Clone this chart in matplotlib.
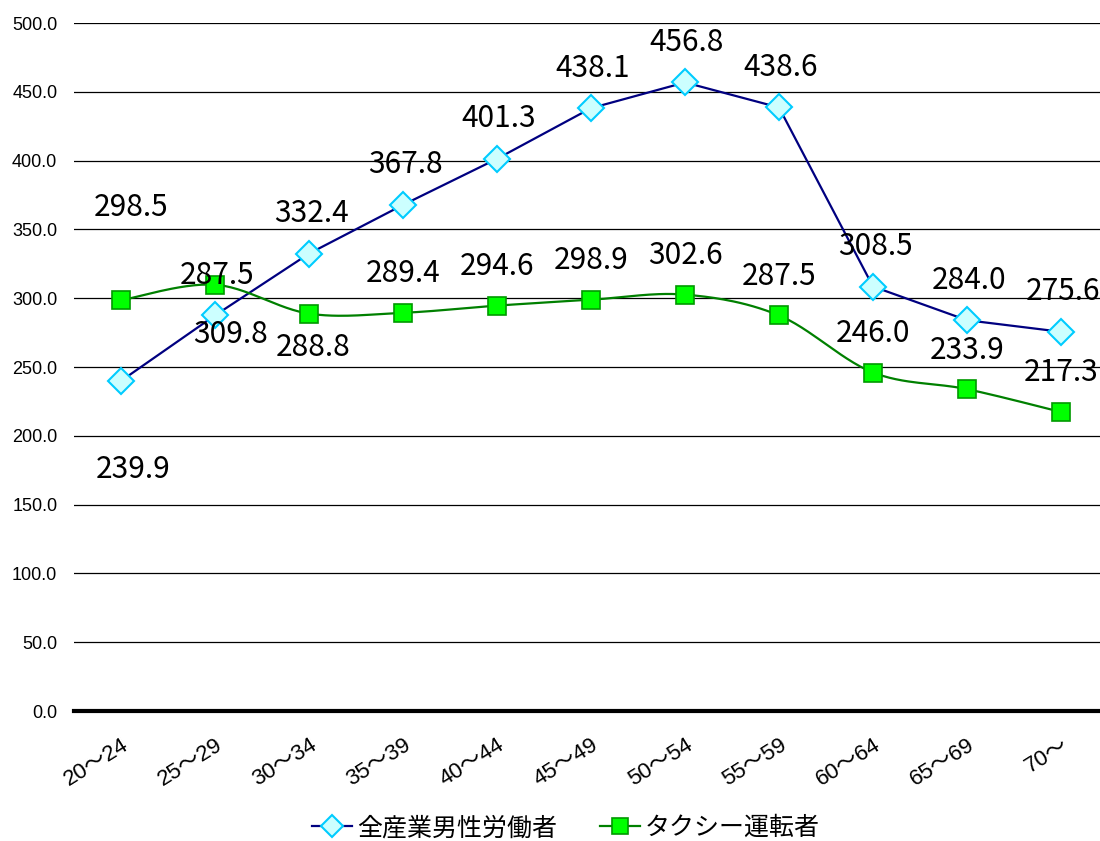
import numpy as np
import matplotlib
matplotlib.use("Agg")
import matplotlib.pyplot as plt
from matplotlib.lines import Line2D

# data
ages = ["20〜24", "25〜29", "30〜34", "35〜39", "40〜44", "45〜49",
        "50〜54", "55〜59", "60〜64", "65〜69", "70〜"]
all_men = [239.9, 287.5, 332.4, 367.8, 401.3, 438.1, 456.8, 438.6, 308.5, 284.0, 275.6]
taxi = [298.5, 309.8, 288.8, 289.4, 294.6, 298.9, 302.6, 287.5, 246.0, 233.9, 217.3]
names = ["全産業男性労働者", "タクシー運転者"]

# label offsets in pixels (dx, dy); default is centred ~40px above the point
men_off = {0: (12, -89)}
taxi_off = {0: (10, 93), 1: (16, -50), 2: (4, -34)}


def smooth(xs, ys, n=30):
    # excel-like smoothed line (catmull-rom as cubic bezier)
    p = np.column_stack([xs, ys]).astype(float)
    p = np.vstack([p[0], p, p[-1]])
    out = []
    t = np.linspace(0, 1, n)[:, None]
    for i in range(1, len(p) - 2):
        p0, p1, p2, p3 = p[i - 1], p[i], p[i + 1], p[i + 2]
        c1 = p1 + (p2 - p0) / 6
        c2 = p2 - (p3 - p1) / 6
        seg = ((1 - t) ** 3) * p1 + 3 * ((1 - t) ** 2) * t * c1 + 3 * (1 - t) * t ** 2 * c2 + t ** 3 * p2
        out.append(seg)
    out = np.vstack(out)
    return out[:, 0], out[:, 1]


fig = plt.figure(figsize=(11, 8.41), dpi=100)
ax = fig.add_axes([74 / 1100, 130 / 841, 1034 / 1100, 688 / 841])

x = np.arange(len(ages))

ax.plot(x, all_men, color="#000080", lw=1.6, zorder=3)
ax.plot(x, all_men, ls="none", marker="D", ms=13, mfc="#CCFFFF", mec="#00CCFF", mew=1.5, zorder=4)

sx, sy = smooth(x, taxi)
ax.plot(sx, sy, color="#008000", lw=1.6, zorder=3)
ax.plot(x, taxi, ls="none", marker="s", ms=12.5, mfc="#00FF00", mec="#009900", mew=1.2, zorder=4)

lab_font = dict(fontsize=21.5, family=["Noto Sans CJK JP", "DejaVu Sans"], ha="center", va="center")
for i, v in enumerate(all_men):
    dx, dy = men_off.get(i, (2, 40))
    ax.annotate(f"{v:.1f}", (x[i], v), xytext=(dx, dy), textcoords="offset pixels",
                annotation_clip=False, zorder=5, **lab_font)
for i, v in enumerate(taxi):
    dx, dy = taxi_off.get(i, (0, 39))
    ax.annotate(f"{v:.1f}", (x[i], v), xytext=(dx, dy), textcoords="offset pixels",
                annotation_clip=False, zorder=5, **lab_font)

ax.set_xlim(-0.5, 10.5)
ax.set_ylim(0, 500)
ax.set_yticks(np.arange(0, 501, 50))
ax.set_yticklabels([f"{t:.1f}" for t in np.arange(0, 501, 50)],
                   fontsize=13, family=["Liberation Sans", "DejaVu Sans"])
ax.set_xticks(x)
ax.set_xticklabels(ages, rotation=32, ha="right", va="top", rotation_mode="anchor",
                   fontsize=16, family=["Liberation Sans", "Noto Sans CJK JP"])
ax.tick_params(axis="both", length=0)
ax.tick_params(axis="y", pad=12)
ax.tick_params(axis="x", pad=17)

ax.grid(axis="y", color="black", lw=0.9)
ax.set_axisbelow(True)
for s in ["top", "right", "left"]:
    ax.spines[s].set_visible(False)
ax.spines["bottom"].set_linewidth(3)
ax.spines["bottom"].set_zorder(3)

handles = [
    Line2D([], [], color="#000080", lw=1.6, marker="D", ms=11, mfc="#CCFFFF", mec="#00CCFF", mew=1.5),
    Line2D([], [], color="#008000", lw=1.6, marker="s", ms=11, mfc="#00FF00", mec="#009900", mew=1.2),
]
fig.legend(handles, names, loc="center", bbox_to_anchor=(566 / 1100, 1 - 828 / 841), ncol=2,
           frameon=False, handlelength=1.6, handletextpad=0.2, columnspacing=1.7,
           prop={"family": ["Noto Sans CJK JP", "DejaVu Sans"], "size": 18})

fig.savefig("out.png", dpi=100)
